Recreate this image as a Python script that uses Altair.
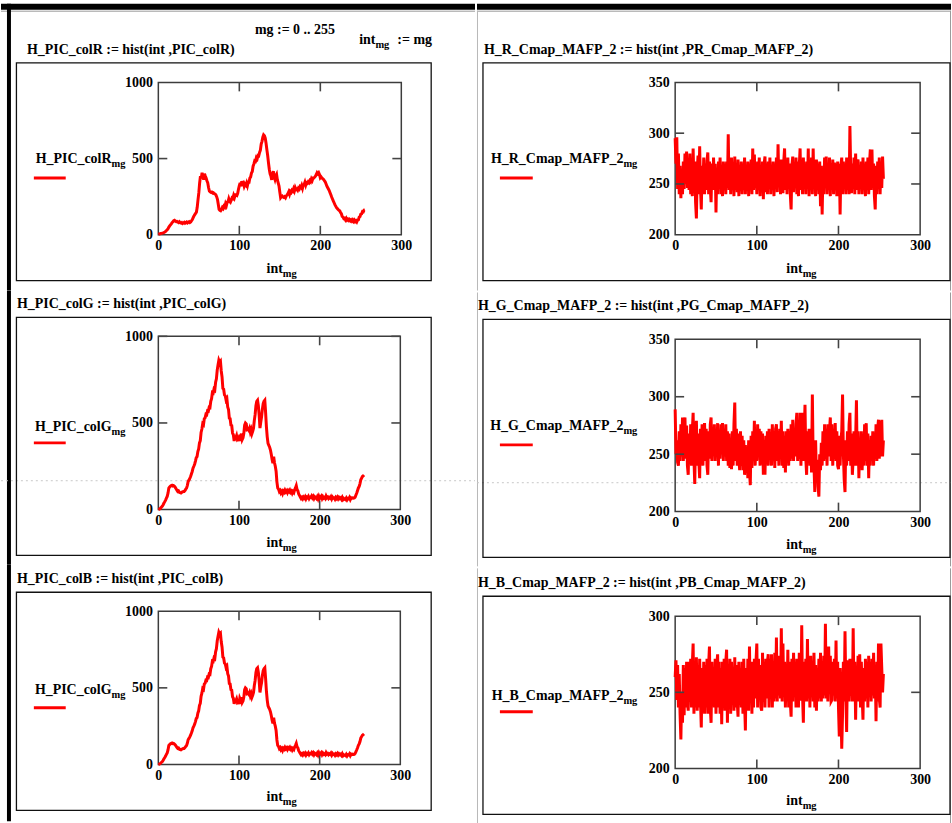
import altair as alt
import pandas as pd

FONT = "Liberation Serif"
RED = "#ff0000"

# ---------------- data ----------------
H_PIC_colR = [
    3, 5, 6, 8, 9, 11, 12, 15, 18, 22, 28, 33, 40, 50, 58, 65,
    72, 80, 86, 92, 95, 90, 86, 88, 84, 80, 85, 78, 76, 80, 74, 78,
    82, 76, 80, 84, 78, 82, 86, 80, 84, 92, 100, 112, 124, 132, 140, 148,
    180, 230, 276, 340, 385, 370, 407, 380, 363, 400, 385, 372, 355, 341, 310, 287,
    282, 278, 280, 274, 276, 270, 268, 262, 250, 233, 200, 167, 160, 157, 165, 178,
    172, 188, 182, 204, 192, 214, 216, 236, 220, 214, 226, 242, 238, 258, 244, 262,
    262, 258, 272, 300, 322, 341, 318, 352, 334, 340, 318, 332, 325, 340, 322, 345,
    345, 372, 380, 405, 415, 450, 465, 485, 482, 505, 498, 520, 518, 540, 555, 595,
    613, 640, 656, 650, 635, 600, 559, 520, 472, 430, 400, 385, 360, 400, 417, 380,
    363, 385, 396, 360, 340, 320, 280, 243, 250, 254, 248, 245, 250, 243, 255, 262,
    270, 282, 266, 284, 278, 292, 286, 302, 288, 309, 296, 300, 292, 306, 300, 316,
    310, 324, 306, 328, 330, 345, 326, 342, 338, 348, 342, 355, 348, 366, 356, 372,
    372, 378, 385, 395, 407, 400, 407, 395, 374, 380, 372, 368, 363, 355, 348, 335,
    320, 310, 300, 290, 276, 262, 248, 235, 222, 210, 198, 188, 178, 172, 165, 160,
    157, 146, 138, 120, 116, 106, 108, 98, 108, 96, 102, 94, 100, 92, 98, 90,
    98, 88, 96, 86, 92, 84, 96, 98, 116, 120, 136, 138, 152, 150, 162, 163,
]

H_PIC_colG = [
    0, 2, 5, 10, 15, 20, 28, 38, 46, 55, 66, 76, 95, 124, 130, 135,
    138, 140, 136, 138, 134, 128, 120, 112, 105, 108, 100, 98, 96, 100, 102, 105,
    105, 110, 118, 124, 140, 163, 170, 180, 191, 205, 220, 239, 250, 262, 280, 300,
    306, 335, 350, 385, 398, 445, 465, 495, 490, 525, 530, 550, 548, 570, 568, 590,
    588, 625, 640, 675, 672, 695, 690, 735, 755, 805, 835, 862, 850, 856, 800, 765,
    700, 695, 662, 656, 632, 640, 592, 578, 528, 525, 488, 485, 442, 432, 396, 414,
    415, 428, 405, 410, 395, 432, 420, 438, 405, 415, 440, 488, 500, 495, 462, 465,
    458, 470, 448, 462, 438, 452, 470, 515, 548, 600, 625, 631, 600, 545, 470, 505,
    535, 580, 612, 625, 631, 560, 478, 420, 382, 370, 360, 344, 320, 290, 268, 306,
    270, 250, 222, 160, 125, 118, 104, 110, 96, 104, 92, 106, 100, 112, 102, 108,
    98, 110, 104, 112, 100, 106, 94, 104, 98, 114, 125, 138, 116, 108, 90, 82,
    72, 64, 70, 62, 72, 66, 74, 62, 72, 68, 76, 64, 72, 70, 78, 68,
    76, 64, 74, 70, 64, 74, 62, 76, 64, 72, 78, 64, 74, 66, 70, 64,
    78, 68, 72, 64, 70, 66, 74, 62, 72, 66, 68, 60, 70, 64, 72, 62,
    70, 64, 68, 60, 70, 58, 64, 60, 57, 66, 56, 64, 62, 70, 58, 68,
    65, 68, 66, 67, 72, 84, 96, 110, 125, 134, 150, 172, 182, 191, 195, 200,
]

H_R_Cmap_MAFP_2 = [
    295, 270, 296, 245, 280, 240, 268, 236, 262, 240, 272, 245, 280, 250, 282, 246,
    275, 244, 280, 240, 266, 238, 285, 250, 272, 232, 216, 262, 278, 240, 287, 246,
    225, 268, 248, 276, 240, 270, 244, 273, 281, 240, 272, 246, 232, 270, 244, 276,
    248, 270, 222, 266, 240, 272, 246, 276, 240, 268, 238, 272, 244, 270, 240, 272,
    246, 299, 244, 270, 240, 276, 248, 268, 238, 277, 244, 270, 242, 274, 238, 266,
    246, 272, 240, 270, 244, 276, 240, 266, 246, 272, 238, 270, 246, 274, 240, 285,
    244, 279, 246, 270, 240, 272, 248, 276, 238, 266, 244, 272, 235, 270, 277, 242,
    270, 240, 272, 246, 276, 240, 268, 244, 272, 238, 270, 246, 276, 242, 289, 248,
    270, 240, 274, 246, 241, 272, 285, 244, 268, 240, 276, 246, 270, 240, 225, 268,
    277, 242, 270, 246, 276, 240, 272, 238, 268, 285, 244, 272, 240, 276, 246, 270,
    240, 272, 246, 285, 238, 270, 244, 276, 240, 285, 246, 270, 238, 274, 244, 270,
    240, 272, 228, 268, 220, 262, 240, 276, 246, 277, 240, 270, 244, 276, 238, 270,
    246, 274, 240, 271, 244, 270, 238, 272, 246, 270, 220, 268, 276, 240, 272, 246,
    270, 240, 276, 244, 268, 240, 307, 262, 241, 270, 246, 276, 240, 280, 244, 272,
    274, 240, 268, 246, 272, 240, 276, 244, 270, 238, 272, 246, 276, 240, 270, 284,
    244, 284, 246, 270, 238, 225, 268, 240, 272, 248, 276, 240, 272, 246, 277, 255,
]

H_G_Cmap_MAFP_2 = [
    289, 250, 262, 243, 240, 270, 244, 276, 248, 282, 244, 270, 282, 246, 275, 240,
    232, 268, 244, 276, 240, 270, 286, 246, 224, 270, 279, 240, 268, 244, 229, 272,
    246, 276, 240, 270, 277, 244, 272, 240, 232, 270, 246, 276, 282, 244, 270, 250,
    276, 244, 272, 248, 277, 240, 270, 246, 276, 250, 277, 244, 272, 248, 276, 244,
    270, 240, 268, 238, 262, 237, 270, 240, 276, 295, 244, 272, 240, 268, 246, 236,
    270, 240, 266, 236, 262, 232, 258, 240, 250, 229, 262, 236, 223, 266, 238, 270,
    246, 279, 240, 270, 244, 276, 248, 272, 240, 270, 244, 268, 232, 262, 232, 266,
    244, 270, 240, 272, 246, 268, 240, 276, 244, 270, 238, 272, 276, 244, 270, 240,
    272, 246, 279, 240, 270, 238, 266, 234, 270, 244, 272, 240, 270, 244, 276, 246,
    280, 244, 272, 248, 276, 286, 244, 270, 246, 286, 240, 272, 286, 244, 266, 293,
    246, 232, 270, 244, 272, 240, 266, 234, 302, 244, 240, 217, 262, 228, 245, 222,
    213, 250, 236, 260, 240, 270, 244, 276, 246, 272, 240, 276, 248, 270, 282, 244,
    276, 240, 272, 246, 277, 244, 270, 240, 237, 266, 240, 262, 270, 302, 250, 228,
    217, 262, 240, 270, 244, 276, 286, 240, 268, 232, 246, 270, 240, 262, 297, 240,
    270, 229, 262, 240, 270, 236, 266, 240, 276, 244, 277, 240, 268, 229, 262, 240,
    266, 244, 270, 240, 266, 246, 276, 244, 272, 280, 246, 279, 248, 280, 248, 262,
]

H_B_Cmap_MAFP_2 = [
    260, 271, 245, 268, 240, 262, 236, 219, 250, 230, 268, 235, 266, 240, 270, 244,
    238, 270, 244, 272, 240, 268, 282, 236, 270, 240, 273, 238, 268, 240, 272, 244,
    227, 266, 240, 270, 236, 268, 240, 272, 236, 268, 280, 240, 230, 270, 244, 266,
    240, 272, 236, 268, 275, 240, 270, 236, 266, 229, 270, 244, 272, 238, 270, 278,
    230, 268, 240, 272, 236, 270, 244, 266, 238, 273, 240, 268, 244, 234, 270, 242,
    266, 240, 270, 236, 272, 244, 225, 266, 240, 272, 238, 280, 244, 270, 236, 270,
    240, 272, 246, 270, 282, 240, 272, 246, 268, 240, 238, 276, 244, 270, 240, 272,
    246, 270, 275, 240, 272, 248, 275, 240, 270, 244, 276, 246, 286, 244, 272, 248,
    274, 246, 292, 244, 282, 248, 270, 240, 266, 244, 278, 240, 270, 244, 234, 272,
    244, 276, 248, 270, 240, 272, 267, 240, 276, 246, 245, 294, 248, 230, 270, 246,
    272, 244, 285, 246, 270, 240, 274, 248, 270, 244, 276, 240, 268, 238, 266, 244,
    272, 246, 276, 244, 270, 246, 274, 248, 295, 246, 272, 244, 280, 250, 274, 244,
    245, 270, 248, 272, 244, 284, 246, 270, 240, 221, 266, 240, 213, 236, 270, 244,
    290, 250, 224, 268, 271, 244, 272, 248, 270, 244, 292, 246, 270, 232, 266, 248,
    274, 244, 275, 240, 270, 248, 232, 266, 244, 272, 246, 270, 240, 274, 248, 270,
    244, 272, 248, 276, 246, 266, 231, 270, 244, 282, 246, 240, 282, 266, 250, 262,
]

X_TICKS = [0, 100, 200, 300]

one = pd.DataFrame({"k": [0]})


def txt(text, x, y, size=14, align="left", color="black"):
    return alt.Chart(one).mark_text(
        text=text, align=align, baseline="alphabetic", font=FONT,
        fontSize=size, fontWeight="bold", color=color,
    ).encode(x=alt.value(x), y=alt.value(y))


def rect(x0, y0, x1, y1, fill=None, stroke=None, sw=1.0):
    kw = {}
    if fill is not None:
        kw["fill"] = fill
        kw["fillOpacity"] = 1
    else:
        kw["fillOpacity"] = 0
    if stroke is not None:
        kw["stroke"] = stroke
        kw["strokeWidth"] = sw
    else:
        kw["strokeWidth"] = 0
    return alt.Chart(one).mark_rect(**kw).encode(
        x=alt.value(x0), x2=alt.value(x1), y=alt.value(y0), y2=alt.value(y1))


def hrule(x0, x1, y, color, sw, dash=None):
    kw = dict(color=color, strokeWidth=sw)
    if dash:
        kw["strokeDash"] = dash
    return alt.Chart(one).mark_rule(**kw).encode(
        x=alt.value(x0), x2=alt.value(x1), y=alt.value(y))


def vrule(x, y0, y1, color, sw):
    return alt.Chart(one).mark_rule(color=color, strokeWidth=sw).encode(
        x=alt.value(x), y=alt.value(y0), y2=alt.value(y1))


def panel(vals, leg, title, ydom, yvals, inner_y, cell, plot, box, tpos,
          lpos, subx, lline, axl, left_col, top_row, dotted=False, extra=()):
    cx0, cy0, cx1, cy1 = cell
    px, py, w, h = plot
    X = lambda a: a - px
    Y = lambda a: a - py
    layers = [rect(X(cx0), Y(cy0), X(cx1), Y(cy1), fill="white")]

    # window decorations
    if top_row:
        layers.append(rect(X(cx0), Y(2), X(cx1), Y(8), fill="black"))
        layers.append(hrule(X(cx0), X(cx1), Y(9.5), "#9a9a9a", 1))
    if left_col:
        layers.append(rect(X(6), Y(max(cy0, 2)), X(10), Y(cy1), fill="black"))
    else:
        layers.append(vrule(X(476.5), Y(max(cy0, 9)), Y(cy1), "#b8b8b8", 1))
        layers.append(vrule(X(951.5), Y(max(cy0, 9)), Y(cy1), "#9a9a9a", 1))
    if dotted:
        layers.append(hrule(X(cx0), X(cx1), Y(481), "#c8c8c8", 1, [2, 3]))

    # region box
    layers.append(rect(X(box[0]), Y(box[1]), X(box[2]), Y(box[3]),
                       stroke="#111111", sw=1.3))
    # title
    layers.append(txt(title, X(tpos[0]), Y(tpos[1])))
    # legend
    layers.append(txt(leg, X(subx), Y(lpos), align="right"))
    layers.append(txt("mg", X(subx), Y(lpos + 4), size=10.5))
    layers.append(hrule(X(lline[0]), X(lline[1]), Y(lline[2]), RED, 3))
    # x axis label int_mg
    layers.append(txt("int", X(axl[0]), Y(axl[1]), align="right"))
    layers.append(txt("mg", X(axl[0]), Y(axl[1] + 4), size=10.5))
    for e in extra:
        layers.append(txt(e[0], X(e[1]), Y(e[2]), size=e[3], align=e[4]))

    # plot frame
    layers.append(rect(0, 0, w, h, stroke="#3c3c3c", sw=1.5))

    axis_common = dict(title=None, grid=False, ticks=False, tickSize=0,
                       domain=False, labelFont=FONT, labelFontSize=14,
                       labelFontWeight="bold", labelColor="black",
                       labelOverlap=False, labelFlush=False, zindex=2,
                       format="d")
    xaxis = alt.Axis(values=X_TICKS, labelPadding=4, **axis_common)
    yaxis = alt.Axis(values=yvals, labelPadding=6, **axis_common)
    xscale = alt.Scale(domain=[0, 300], nice=False, zero=False)
    yscale = alt.Scale(domain=ydom, nice=False, zero=False)

    df = pd.DataFrame({"mg": list(range(len(vals))), "v": vals})
    line = alt.Chart(df).mark_line(color=RED, strokeWidth=3).encode(
        x=alt.X("mg:Q", scale=xscale, axis=xaxis),
        y=alt.Y("v:Q", scale=yscale, axis=yaxis),
    )
    layers.append(line)

    # inward ticks
    xt = pd.DataFrame({"mg": [100, 200]})
    yt = pd.DataFrame({"v": inner_y})
    tk = dict(color="#444444", strokeWidth=1.6)
    layers.append(alt.Chart(xt).mark_rule(**tk).encode(
        x=alt.X("mg:Q", scale=xscale, axis=xaxis), y=alt.value(0), y2=alt.value(9)))
    layers.append(alt.Chart(xt).mark_rule(**tk).encode(
        x=alt.X("mg:Q", scale=xscale, axis=xaxis), y=alt.value(h - 9), y2=alt.value(h)))
    layers.append(alt.Chart(yt).mark_rule(**tk).encode(
        y=alt.Y("v:Q", scale=yscale, axis=yaxis), x=alt.value(0), x2=alt.value(9)))
    layers.append(alt.Chart(yt).mark_rule(**tk).encode(
        y=alt.Y("v:Q", scale=yscale, axis=yaxis), x=alt.value(w - 9), x2=alt.value(w)))

    return alt.layer(*layers).properties(width=w, height=h)


L1 = panel(H_PIC_colR, "H_PIC_colR", "H_PIC_colR := hist(int ,PIC_colR)",
           [0, 1000], [0, 500, 1000], [500],
           cell=(0, 0, 476, 290), plot=(158, 81, 244, 153),
           box=(15.5, 61.5, 432, 280), tpos=(26, 52), lpos=162, subx=111,
           lline=(33, 65, 177), axl=(283, 272), left_col=True, top_row=True,
           extra=[("mg := 0 .. 255", 255, 32, 14, "left"),
                  ("int", 376, 42, 14, "right"),
                  ("mg", 376, 46, 10.5, "left"),
                  (":= mg", 398, 42, 14, "left")])
L2 = panel(H_PIC_colG, "H_PIC_colG", "H_PIC_colG := hist(int ,PIC_colG)",
           [0, 1000], [0, 500, 1000], [500, 1000],
           cell=(0, 290, 476, 565), plot=(158, 336, 243, 174),
           box=(15.5, 317, 432, 556), tpos=(16, 308), lpos=431, subx=111,
           lline=(33, 65, 443), axl=(283, 548), left_col=True, top_row=False,
           dotted=True)
L3 = panel(H_PIC_colG, "H_PIC_colG", "H_PIC_colB := hist(int ,PIC_colB)",
           [0, 1000], [0, 500, 1000], [500],
           cell=(0, 565, 476, 823), plot=(158, 612, 243, 154),
           box=(15.5, 593, 432, 812), tpos=(16, 584), lpos=695, subx=111,
           lline=(33, 65, 709), axl=(283, 803), left_col=True, top_row=False)

R1 = panel(H_R_Cmap_MAFP_2, "H_R_Cmap_MAFP_2",
           "H_R_Cmap_MAFP_2 := hist(int ,PR_Cmap_MAFP_2)",
           [200, 350], [200, 250, 300, 350], [250, 300],
           cell=(476, 0, 952, 290), plot=(675, 81, 246, 153),
           box=(482, 61.5, 951, 280), tpos=(483, 52), lpos=162, subx=623,
           lline=(499, 532, 177), axl=(803, 272), left_col=False, top_row=True)
R2 = panel(H_G_Cmap_MAFP_2, "H_G_Cmap_MAFP_2",
           "H_G_Cmap_MAFP_2 := hist(int ,PG_Cmap_MAFP_2)",
           [200, 350], [200, 250, 300, 350], [250, 300],
           cell=(476, 290, 952, 565), plot=(675, 337, 246, 173),
           box=(482, 317, 951, 556), tpos=(477, 308), lpos=428, subx=623,
           lline=(499, 532, 443), axl=(803, 548), left_col=False, top_row=False,
           dotted=True)
R3 = panel(H_B_Cmap_MAFP_2, "H_B_Cmap_MAFP_2",
           "H_B_Cmap_MAFP_2 := hist(int ,PB_Cmap_MAFP_2)",
           [200, 300], [200, 250, 300], [250],
           cell=(476, 565, 952, 823), plot=(675, 613, 246, 153),
           box=(482, 593, 951, 812), tpos=(477, 584), lpos=697, subx=623,
           lline=(499, 532, 709), axl=(803, 803), left_col=False, top_row=False)

left = alt.vconcat(L1, L2, L3, spacing=0)
right = alt.vconcat(R1, R2, R3, spacing=0)
chart = alt.hconcat(left, right, spacing=0).properties(
    padding=0, background="white"
).configure_view(strokeWidth=0)

chart.save("out.html", embed_options={"renderer": "svg", "actions": False})
